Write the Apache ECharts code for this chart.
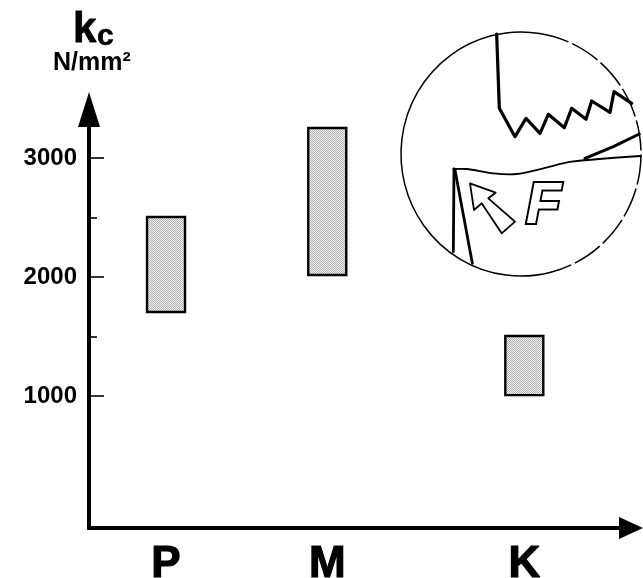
<!DOCTYPE html>
<html><head><meta charset="utf-8">
<style>html,body{margin:0;padding:0;background:#fff}#c{width:643px;height:578px}</style>
<script src="https://cdn.jsdelivr.net/npm/echarts@6/dist/echarts.min.js"></script>
</head><body><div id="c"></div>
<script>
const materials = ['P', 'M', 'K'];
const materialSlots = [2, 6.05, 11];
const kcLow = [1706, 2017, 1008];
const kcHigh = [2504, 3252, 1504];
const majorTicks = [1000, 2000, 3000];
const minorTicks = [1500, 2500];

const pc = document.createElement('canvas');
pc.width = pc.height = 2;
const g = pc.getContext('2d');
g.fillStyle = '#f2f2f2'; g.fillRect(0, 0, 2, 2);
g.fillStyle = '#b0b0b0'; g.fillRect(0, 0, 1, 1); g.fillRect(1, 1, 1, 1);
const dither = { image: pc, repeat: 'repeat' };

const z = (pts) => pts.map(p => [400 + p[0] / 3, 20 + p[1] / 3]);
const ink = { stroke: '#000', fill: null, lineJoin: 'round', lineCap: 'round' };
const line = (pts, w, smooth) => ({ type: 'polyline', shape: { points: z(pts), smooth: smooth || 0 }, style: { ...ink, lineWidth: w }, silent: true });

const yMin = -109, yMax = 3408;
const chart = echarts.init(document.getElementById('c'), null, { renderer: 'canvas' });
chart.setOption({
  animation: false,
  backgroundColor: '#fff',
  grid: { left: 89, right: 12, top: 109.5, bottom: 50, outerBoundsMode: 'none' },
  xAxis: {
    type: 'value', min: 0.065, max: 13.68, splitLine: { show: false },
    axisLine: { onZero: false, symbol: ['none', 'triangle'], symbolSize: [22, 24], lineStyle: { color: '#000', width: 4, cap: 'square' } },
    axisTick: { show: false },
    axisLabel: {
      customValues: materialSlots, hideOverlap: false, margin: 15,
      formatter: v => materials[materialSlots.indexOf(v)],
      color: '#000', fontFamily: 'Liberation Sans', fontWeight: 'bold', fontSize: 44,
      textBorderColor: '#000', textBorderWidth: 1.2
    }
  },
  yAxis: [{
    type: 'value', min: yMin, max: yMax, splitLine: { show: false },
    axisLine: { onZero: false, symbol: ['none', 'triangle'], symbolSize: [22, 35], lineStyle: { color: '#000', width: 4, cap: 'square' } },
    axisTick: { inside: true, length: 15, customValues: majorTicks, lineStyle: { color: '#000', width: 1.6 } },
    axisLabel: {
      customValues: majorTicks, margin: 12, formatter: v => String(v), color: '#000',
      fontFamily: 'Liberation Sans', fontWeight: 'bold', fontSize: 24
    }
  }, {
    type: 'value', position: 'left', min: yMin, max: yMax, splitLine: { show: false },
    axisLine: { show: false, onZero: false },
    axisTick: { show: true, inside: true, length: 8, customValues: minorTicks, lineStyle: { color: '#000', width: 1.6 } },
    axisLabel: { show: false }
  }],
  series: [{
    type: 'custom', clip: false,
    data: materialSlots.map((s, i) => [s, kcLow[i], kcHigh[i]]),
    encode: { x: 0, y: [1, 2] },
    renderItem: (params, api) => {
      const a = api.coord([api.value(0), api.value(1)]);
      const b = api.coord([api.value(0), api.value(2)]);
      return { type: 'rect', shape: { x: a[0] - 19, y: b[1], width: 38, height: a[1] - b[1] },
        style: { fill: dither, stroke: '#000', lineWidth: 2.4 } };
    }
  }],
  graphic: [
    { type: 'text', x: 73, y: 9, silent: true, style: { text: 'k', fontFamily: 'Liberation Sans', fontWeight: 'bold', fontSize: 42, fill: '#000', stroke: '#000', lineWidth: 0.8 } },
    { type: 'text', x: 97, y: 22, silent: true, style: { text: 'c', fontFamily: 'Liberation Sans', fontWeight: 'bold', fontSize: 30, fill: '#000', stroke: '#000', lineWidth: 0.6 } },
    { type: 'text', x: 53, y: 51, silent: true, style: { text: 'N/mm²', fontFamily: 'Liberation Sans', fontWeight: 'bold', fontSize: 25, fill: '#000' } },
    { type: 'arc', shape: { cx: 521, cy: 154, r: 120, startAngle: Math.PI * 0.42, endAngle: Math.PI * 1.55, clockwise: true }, originX: 521, originY: 154, scaleY: 1.017, style: { ...ink, lineWidth: 1.5 }, silent: true },
    { type: 'arc', shape: { cx: 521, cy: 154, r: 120, startAngle: Math.PI * 1.55, endAngle: Math.PI * 2.42, clockwise: true }, originX: 521, originY: 154, scaleY: 1.017, style: { ...ink, fill: null, lineWidth: 1.5, lineDash: [30, 4], lineCap: 'butt' }, silent: true },
    line([[290, 42], [298, 265], [345, 350], [378, 295], [420, 340], [445, 283], [493, 323], [515, 265], [558, 298], [575, 243], [630, 277], [642, 215], [695, 250]], 3.2),
    line([[160, 447], [200, 447], [280, 460], [350, 462], [430, 445], [515, 425], [722, 408]], 1.8, 0.3),
    line([[555, 415], [640, 380], [718, 342]], 3),
    line([[162, 447], [160, 695]], 2.8),
    line([[165, 450], [217, 730]], 2.8),
    line([[210, 490], [287, 518], [265, 535], [345, 605], [305, 640], [245, 550], [222, 570], [210, 490]], 1.8),
    { type: 'text', x: 526, y: 179, silent: true, style: { text: 'F', fontFamily: 'Liberation Sans', fontWeight: 'bold', fontStyle: 'italic', fontSize: 57, fill: '#fff', stroke: '#000', lineWidth: 4 } }
  ]
});
</script></body></html>
